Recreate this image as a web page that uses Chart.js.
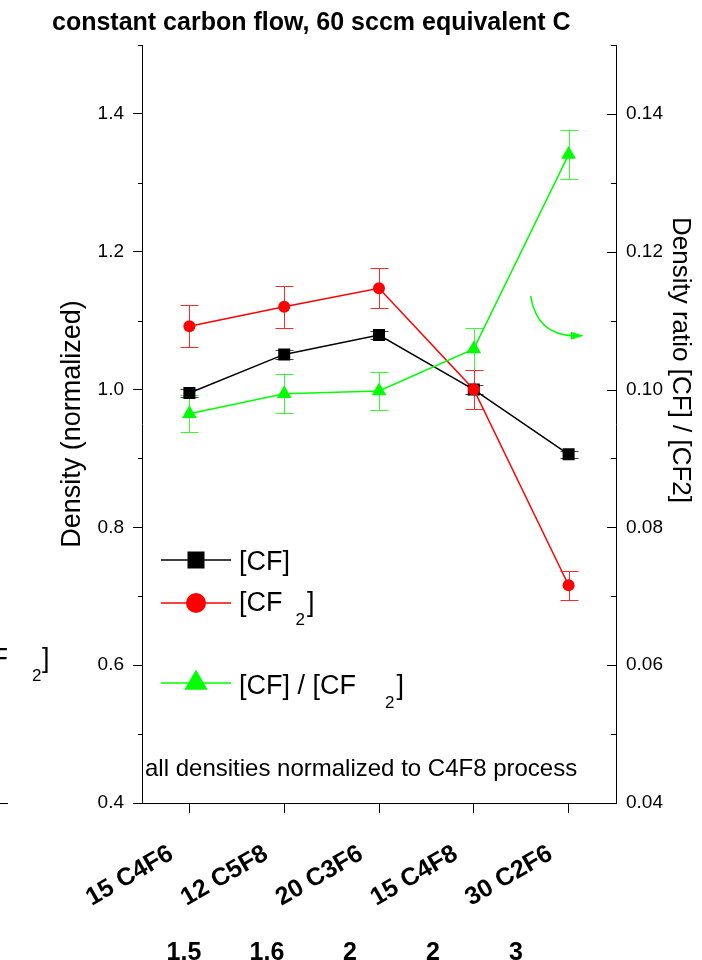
<!DOCTYPE html>
<html>
<head>
<meta charset="utf-8">
<script src="https://cdn.jsdelivr.net/npm/chart.js@4.4.1/dist/chart.umd.min.js"></script>
<style>
  html, body { margin: 0; padding: 0; background: #fff; }
  #wrap { width: 702px; height: 960px; }
</style>
</head>
<body>
<div id="wrap"><canvas id="densityChart" width="702" height="960"></canvas></div>
<script>
const FONT = '"Liberation Sans", Arial, Helvetica, sans-serif';

// data
const categories = ['15 C4F6', '12 C5F8', '20 C3F6', '15 C4F8', '30 C2F6'];
const carbonRatios = ['1.5', '1.6', '2', '2', '3'];

const cfValues = [0.995, 1.051, 1.079, 1.000, 0.906];
const cfErrors = [0.006, 0.007, 0.006, 0.006, 0.005];

const cf2Values = [1.092, 1.120, 1.147, 1.000, 0.716];
const cf2Errors = [0.030, 0.030, 0.029, 0.028, 0.021];

const ratioValues = [0.0965, 0.0994, 0.0998, 0.1059, 0.1341];
const ratioErrors = [0.0027, 0.0028, 0.0028, 0.0030, 0.0036];

const leftTickValues = [0.4, 0.6, 0.8, 1.0, 1.2, 1.4];
const leftMinorValues = [0.5, 0.7, 0.9, 1.1, 1.3, 1.5];
const rightTickValues = [0.04, 0.06, 0.08, 0.10, 0.12, 0.14];
const rightMinorValues = [0.05, 0.07, 0.09, 0.11, 0.13, 0.15];

// little curved arrow pointing to the right axis (x = category index, y = left axis)
const arrowPath = { start: [3.6, 1.136], ctrl: [3.66, 1.080], end: [4.16, 1.078] };

const errorBars = {
    id: 'errorBars',
    beforeDatasetsDraw(chart) {
        const { ctx } = chart;
        chart.data.datasets.forEach((ds, i) => {
            const meta = chart.getDatasetMeta(i);
            const yScale = chart.scales[ds.yAxisID];
            ctx.save();
            ctx.strokeStyle = ds.errorColor;
            ctx.lineWidth = 1;
            meta.data.forEach((pt, j) => {
                const v = ds.data[j], e = ds.errors[j];
                const top = Math.round(yScale.getPixelForValue(v + e)) + 0.5;
                const bot = Math.round(yScale.getPixelForValue(v - e)) + 0.5;
                const x = Math.round(pt.x) + 0.5;
                ctx.beginPath();
                ctx.moveTo(x, top); ctx.lineTo(x, bot);
                ctx.moveTo(x - 9, top); ctx.lineTo(x + 9, top);
                ctx.moveTo(x - 9, bot); ctx.lineTo(x + 9, bot);
                ctx.stroke();
            });
            ctx.restore();
        });
    }
};

function marker(ctx, style, x, y, r, color) {
    ctx.fillStyle = color;
    ctx.beginPath();
    if (style === 'rect') {
        ctx.rect(x - r, y - r, 2 * r, 2 * r);
    } else if (style === 'circle') {
        ctx.arc(x, y, r, 0, Math.PI * 2);
    } else {
        ctx.moveTo(x, y - r);
        ctx.lineTo(x + r * 0.866, y + r * 0.5);
        ctx.lineTo(x - r * 0.866, y + r * 0.5);
        ctx.closePath();
    }
    ctx.fill();
}

// text with a lowered "2" like the original figure
function subText(ctx, x, base, head, gap, tail) {
    ctx.font = '27px ' + FONT;
    ctx.fillText(head, x, base);
    let cx = x + ctx.measureText(head).width + gap;
    ctx.font = '17px ' + FONT;
    ctx.fillText('2', cx, base + 14);
    cx += ctx.measureText('2').width + 2;
    ctx.font = '27px ' + FONT;
    ctx.fillText(tail, cx, base);
}

const decorations = {
    id: 'decorations',
    afterDraw(chart) {
        const { ctx, chartArea } = chart;
        const yL = chart.scales.y, yR = chart.scales.y1, xS = chart.scales.x;
        ctx.save();

        // minor ticks left (outward), ticks right (inward)
        ctx.strokeStyle = '#000';
        ctx.lineWidth = 1;
        ctx.beginPath();
        leftMinorValues.forEach(v => {
            const y = Math.round(yL.getPixelForValue(v)) + 0.5;
            ctx.moveTo(chartArea.left - 4, y); ctx.lineTo(chartArea.left, y);
        });
        rightTickValues.forEach(v => {
            const y = Math.round(yR.getPixelForValue(v)) + 0.5;
            ctx.moveTo(chartArea.right - 9, y); ctx.lineTo(chartArea.right, y);
        });
        rightMinorValues.forEach(v => {
            const y = Math.round(yR.getPixelForValue(v)) + 0.5;
            ctx.moveTo(chartArea.right - 5, y); ctx.lineTo(chartArea.right, y);
        });
        // stray tick of the neighbouring panel
        ctx.moveTo(0, Math.round(yL.getPixelForValue(0.4)) + 0.5);
        ctx.lineTo(8, Math.round(yL.getPixelForValue(0.4)) + 0.5);
        ctx.stroke();

        // arrow
        const px = p => [xS.getPixelForValue(p[0]), yL.getPixelForValue(p[1])];
        const s = px(arrowPath.start), c = px(arrowPath.ctrl), e = px(arrowPath.end);
        ctx.strokeStyle = '#00ff00';
        ctx.fillStyle = '#00ff00';
        ctx.lineWidth = 1.5;
        ctx.beginPath();
        ctx.moveTo(s[0], s[1]);
        ctx.quadraticCurveTo(c[0], c[1], e[0] - 10, e[1]);
        ctx.stroke();
        ctx.beginPath();
        ctx.moveTo(e[0], e[1]);
        ctx.lineTo(e[0] - 13, e[1] - 4);
        ctx.lineTo(e[0] - 13, e[1] + 4);
        ctx.closePath();
        ctx.fill();

        // title
        ctx.fillStyle = '#000';
        ctx.textBaseline = 'alphabetic';
        ctx.textAlign = 'left';
        ctx.font = 'bold 25px ' + FONT;
        ctx.fillText('constant carbon flow, 60 sccm equivalent C', 52, 30);

        // note
        ctx.font = '24px ' + FONT;
        ctx.fillText('all densities normalized to C4F8 process', chartArea.left + 3, 776);

        // legend
        const lx0 = chartArea.left + 19, lx1 = chartArea.left + 89, mx = chartArea.left + 54;
        const rows = [
            { y: 560, color: '#000000', style: 'rect', r: 8.5 },
            { y: 603, color: '#ff0000', style: 'circle', r: 10 },
            { y: 683, color: '#00ff00', style: 'triangle', r: 13.5 }
        ];
        rows.forEach(row => {
            ctx.strokeStyle = row.color;
            ctx.lineWidth = 1.5;
            ctx.beginPath();
            ctx.moveTo(lx0, row.y); ctx.lineTo(lx1, row.y);
            ctx.stroke();
            marker(ctx, row.style, mx, row.y, row.r, row.color);
        });
        ctx.fillStyle = '#000';
        ctx.font = '27px ' + FONT;
        ctx.fillText('[CF]', chartArea.left + 97, 570);
        subText(ctx, chartArea.left + 97, 611, '[CF', 13, ']');
        subText(ctx, chartArea.left + 97, 694, '[CF] / [CF', 29, ']');

        // clipped legend of the neighbouring panel
        ctx.textAlign = 'right';
        ctx.font = '27px ' + FONT;
        ctx.fillText('[CF', 8, 667);
        ctx.textAlign = 'left';
        ctx.font = '17px ' + FONT;
        ctx.fillText('2', 32, 681);
        ctx.font = '27px ' + FONT;
        ctx.fillText(']', 42, 667);

        // right axis title
        ctx.save();
        ctx.translate(680, 360);
        ctx.rotate(Math.PI / 2);
        ctx.textAlign = 'center';
        ctx.textBaseline = 'middle';
        ctx.font = '26px ' + FONT;
        ctx.fillText('Density ratio [CF] / [CF2]', 0, 0);
        ctx.restore();

        // carbon ratio row under the categories
        ctx.textAlign = 'center';
        ctx.font = 'bold 25px ' + FONT;
        carbonRatios.forEach((t, i) => {
            ctx.fillText(t, chartArea.left + 42 + i * 83, 960);
        });

        ctx.restore();
    }
};

const ctx = document.getElementById('densityChart');

new Chart(ctx, {
    type: 'line',
    data: {
        labels: categories,
        datasets: [
            {
                label: '[CF] / [CF2]',
                data: ratioValues,
                errors: ratioErrors,
                errorColor: '#33ff33',
                yAxisID: 'y1',
                borderColor: '#00ff00',
                backgroundColor: '#00ff00',
                borderWidth: 1.5,
                pointStyle: 'triangle',
                pointRadius: 8.5,
                pointBorderWidth: 0,
                order: 1
            },
            {
                label: '[CF2]',
                data: cf2Values,
                errors: cf2Errors,
                errorColor: '#ff2a2a',
                yAxisID: 'y',
                borderColor: '#ff0000',
                backgroundColor: '#ff0000',
                borderWidth: 1.5,
                pointStyle: 'circle',
                pointRadius: 6,
                pointBorderWidth: 0,
                order: 2
            },
            {
                label: '[CF]',
                data: cfValues,
                errors: cfErrors,
                errorColor: '#444444',
                yAxisID: 'y',
                borderColor: '#000000',
                backgroundColor: '#000000',
                borderWidth: 1.5,
                pointStyle: 'rect',
                pointRadius: 8.5,
                pointBorderWidth: 0,
                order: 3
            }
        ]
    },
    options: {
        responsive: false,
        animation: false,
        devicePixelRatio: 1,
        layout: { padding: { top: 45, left: 0, right: 0, bottom: 0 } },
        plugins: {
            legend: { display: false },
            tooltip: { enabled: false },
            title: { display: false }
        },
        scales: {
            x: {
                type: 'category',
                position: 'bottom',
                offset: true,
                afterFit: s => { s.height = 157; },
                grid: { drawOnChartArea: false, offset: false, tickLength: 10, color: '#000', tickColor: '#000' },
                border: { display: true, color: '#000', width: 1 },
                ticks: {
                    color: '#000',
                    font: { family: FONT, size: 25, weight: 'bold' },
                    minRotation: 30,
                    maxRotation: 30,
                    autoSkip: false,
                    labelOffset: -18,
                    padding: 26
                }
            },
            y: {
                type: 'linear',
                position: 'left',
                min: 0.4,
                max: 1.5,
                afterFit: s => { s.width = 142; },
                afterBuildTicks: s => { s.ticks = leftTickValues.map(v => ({ value: v })); },
                grid: { drawOnChartArea: false, tickLength: 9, color: '#000', tickColor: '#000' },
                border: { display: true, color: '#000', width: 1 },
                ticks: {
                    color: '#000',
                    padding: 9,
                    font: { family: FONT, size: 19 },
                    callback: v => v.toFixed(1)
                },
                title: {
                    display: true,
                    text: 'Density (normalized)',
                    color: '#000',
                    font: { family: FONT, size: 27 },
                    padding: { top: 56, bottom: 0 }
                }
            },
            y1: {
                type: 'linear',
                position: 'right',
                min: 0.04,
                max: 0.15,
                afterFit: s => { s.width = 86; },
                afterBuildTicks: s => { s.ticks = rightTickValues.map(v => ({ value: v })); },
                grid: { drawOnChartArea: false, drawTicks: false, color: '#000' },
                border: { display: true, color: '#000', width: 1 },
                ticks: {
                    color: '#000',
                    padding: 10,
                    font: { family: FONT, size: 19 },
                    callback: v => v.toFixed(2)
                }
            }
        }
    },
    plugins: [errorBars, decorations]
});
</script>
</body>
</html>
